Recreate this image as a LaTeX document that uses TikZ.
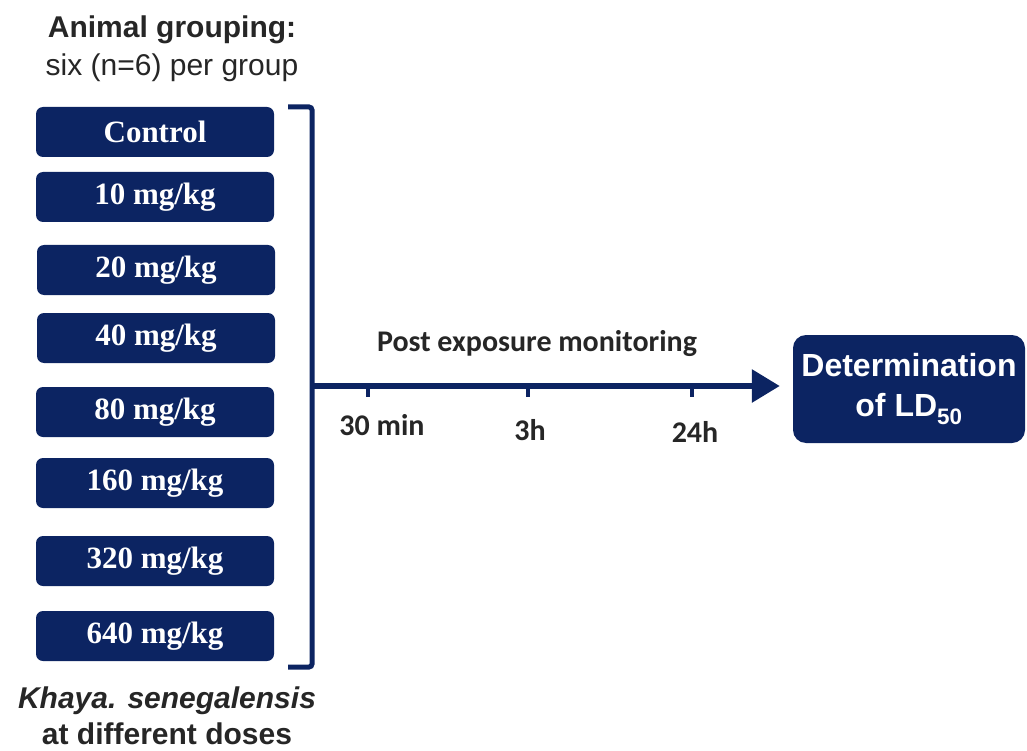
\documentclass[tikz,border=0pt]{standalone}
\usepackage{fontspec}
\setmainfont{Liberation Serif}
\newfontfamily\arialfont{Liberation Sans}
\newfontfamily\calibfont{Carlito}
\usepackage{tikz}
\usetikzlibrary{arrows.meta,positioning}
\definecolor{navy}{RGB}{12,36,98}

\begin{document}
\begin{tikzpicture}
	[x=1pt, y=-1pt, inner sep=0pt,
	dose/.style	= {rectangle, rounded corners=7pt, fill=navy, text=white, minimum width=238pt, minimum height=50pt, font=\fontsize{31}{36}\selectfont\bfseries},
	result/.style	= {rectangle, rounded corners=13pt, fill=navy, text=white, minimum width=232pt, minimum height=108pt, align=center, font=\arialfont\fontsize{32}{40}\selectfont\bfseries},
	heading/.style	= {align=center, text=black!85, font=\arialfont\fontsize{30}{38}\selectfont},
	timelbl/.style	= {text=black!85, font=\calibfont\fontsize{30}{36}\selectfont\bfseries},
	brace/.style	= {draw=navy, line width=5pt, rounded corners=3pt},
	paths/.style	= {-{Triangle[length=28pt,width=32pt]}, draw=navy, line width=6pt, shorten >= 13pt}]
	
	\useasboundingbox (0,0) rectangle (1027,751);
	
	\node at (172, 49)		[heading]	(title)	{\textbf{Animal grouping:}\\six (n=6) per group};
	
	\node at (155, 132)	[dose]	(ctrl)	{Control};
	\node at (155, 197)	[dose]	(d10)	{10 mg/kg};
	\node at (156, 270)	[dose]	(d20)	{20 mg/kg};
	\node at (156, 338)	[dose]	(d40)	{40 mg/kg};
	\node at (155, 412)	[dose]	(d80)	{80 mg/kg};
	\node at (155, 483)	[dose]	(d160)	{160 mg/kg};
	\node at (155, 561)	[dose]	(d320)	{320 mg/kg};
	\node at (155, 636)	[dose]	(d640)	{640 mg/kg};
	
	\node at (167, 716)	[heading, font=\arialfont\fontsize{30}{36}\selectfont]	(plant)	{\textbf{\textit{Khaya. senegalensis}}\\\textbf{at different doses}};
	
	\node at (909, 389)	[result]	(ld50)	{Determination\\of LD\textsubscript{50}};
	
	% bracket round the groups
	\coordinate (btop)	at (288, 107);
	\coordinate (bbot)	at (288, 667);
	\coordinate (join)	at (312, 386);
	\draw [brace] (btop) -- (btop -| join) -- (bbot -| join) -- (bbot);
	
	\draw [paths] (join) -- (ld50.west |- join);
	
	\node at (537, 344)	[timelbl]	(post)	{Post exposure monitoring};
	
	\foreach \x/\lx/\ly/\lbl/\nm in {368/382/425/30 min/t1, 528/530/430/3h/t2, 692/695/432/24h/t3}
	{
		\draw [navy, line width=4pt] (\x, 386) -- (\x, 397);
		\node at (\lx, \ly)	[timelbl]	(\nm)	{\lbl};
	}
	
\end{tikzpicture}
\end{document}
